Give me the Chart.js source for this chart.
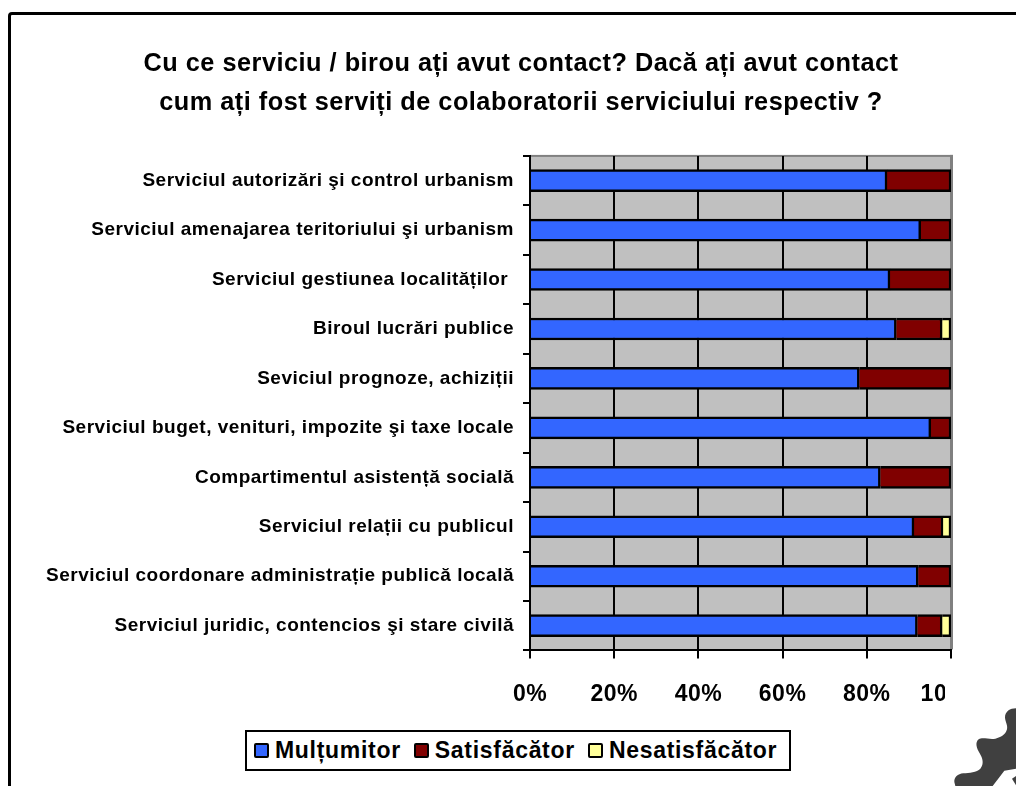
<!DOCTYPE html>
<html>
<head>
<meta charset="utf-8">
<script src="https://cdn.jsdelivr.net/npm/chart.js@4"></script>
<style>
    html, body { margin: 0; padding: 0; background: #fff; overflow: hidden; width: 1016px; height: 786px; }
    #frame { position: absolute; left: 8px; top: 12px; width: 1100px; height: 900px; border: 3px solid #000; border-radius: 4px; }
    #wrap { position: absolute; left: 0; top: 0; width: 1016px; height: 786px; }
    #legend { position: absolute; left: 245px; top: 730px; width: 546px; height: 41px; box-sizing: border-box; border: 2px solid #000; padding-left: 7px;
        display: flex; align-items: center; background: #fff;
        font: bold 23px "Liberation Sans", Arial, sans-serif; letter-spacing: 0.7px; color: #000; white-space: nowrap; }
    #legend span.item { display: flex; align-items: center; margin-right: 13px; }
    #legend i { display: block; width: 15px; height: 15px; box-sizing: border-box; border: 2px solid #000; border-radius: 2px; margin-right: 6px; }
    #gear { position: absolute; left: 936px; top: 690px; }
</style>
</head>
<body>
<div id="frame"></div>
<div id="wrap"><canvas id="chart" width="1016" height="786"></canvas></div>
<div id="legend"></div>
<svg id="gear" width="80" height="96" viewBox="0 0 240 288">
    <path fill="#404040" d="M240 55 C222 55 207 65 207 82 C207 95 216 105 213 118 C208 135 195 142 178 146 C160 150 140 140 128 148 C116 158 122 175 131 190 C140 205 145 222 133 236 C122 248 100 248 82 250 C65 252 54 262 55 276 L58 288 L170 288 L205 242 L240 236 Z"/>
    <path fill="#404040" d="M240 258 L228 266 L240 286 Z"/>
</svg>
<script>
const categories = [
    'Serviciul autorizări şi control urbanism',
    'Serviciul amenajarea teritoriului şi urbanism',
    'Serviciul gestiunea localităților ',
    'Biroul lucrări publice',
    'Seviciul prognoze, achiziții',
    'Serviciul buget, venituri, impozite şi taxe locale',
    'Compartimentul asistență socială',
    'Serviciul relații cu publicul',
    'Serviciul coordonare administrație publică locală',
    'Serviciul juridic, contencios şi stare civilă'
];
const multumitor = [84.8, 92.8, 85.5, 87, 78.2, 95.2, 83.2, 91.2, 92.2, 92];
const satisfacator = [15.2, 7.2, 14.5, 10.9, 21.8, 4.8, 16.8, 6.9, 7.8, 5.9];
const nesatisfacator = [0, 0, 0, 2.1, 0, 0, 0, 1.9, 0, 2.1];
const titleLines = [
    'Cu ce serviciu / birou ați avut contact? Dacă ați avut contact',
    'cum ați fost serviți de colaboratorii serviciului respectiv ?'
];

const blue = '#3366FF';
const darkRed = '#800000';
const paleYellow = '#FFFF99';
const fontFamily = '"Liberation Sans", Arial, sans-serif';

// Gray plot background, darker top/right edges, wide text and the cut off last tick label
const plotBackground = {
    id: 'plotBackground',
    afterLayout(chart) {
        // title is centred on the whole frame, not on the space left of the padding
        chart.titleBlock.left += 45.5;
        chart.titleBlock.right += 45.5;
    },
    beforeDraw(chart) {
        const { ctx, chartArea: a } = chart;
        ctx.letterSpacing = '0.5px';
        ctx.save();
        ctx.fillStyle = '#C0C0C0';
        ctx.fillRect(a.left, a.top, a.right - a.left, a.bottom - a.top);
        ctx.fillStyle = '#808080';
        ctx.fillRect(a.left, a.top - 1, a.right - a.left + 2, 2);
        ctx.fillRect(a.right - 1, a.top - 1, 3, a.bottom - a.top);
        ctx.restore();
    },
    afterDraw(chart) {
        const { ctx, chartArea: a } = chart;
        ctx.save();
        ctx.fillStyle = '#fff';
        ctx.fillRect(945, a.bottom + 12, 71, 50);
        ctx.restore();
    }
};

function barDataset(label, data, color) {
    return {
        label: label,
        data: data,
        backgroundColor: color,
        borderColor: '#000',
        borderWidth: 2.5,
        barThickness: 22
    };
}

const chart = new Chart(document.getElementById('chart').getContext('2d'), {
    type: 'bar',
    data: {
        labels: categories,
        datasets: [
            barDataset('Mulțumitor', multumitor, blue),
            barDataset('Satisfăcător', satisfacator, darkRed),
            barDataset('Nesatisfăcător', nesatisfacator, paleYellow)
        ]
    },
    options: {
        indexAxis: 'y',
        responsive: false,
        animation: false,
        layout: { padding: { top: 0, right: 65, bottom: 56, left: 0 } },
        plugins: {
            legend: { display: false },
            tooltip: { enabled: false },
            title: {
                display: true,
                text: titleLines,
                color: '#000',
                font: { family: fontFamily, size: 25.3, weight: 'bold', lineHeight: 1.52 },
                padding: { top: 45, bottom: 34 }
            }
        },
        scales: {
            x: {
                stacked: true,
                min: 0,
                max: 100,
                ticks: {
                    stepSize: 20,
                    color: '#000',
                    padding: 22,
                    maxRotation: 0,
                    font: { family: fontFamily, size: 23, weight: 'bold' },
                    callback: v => v + '%'
                },
                grid: {
                    color: ctx => ctx.tick && ctx.tick.value === 100 ? 'transparent' : '#000',
                    tickColor: '#000',
                    lineWidth: 2,
                    tickLength: 8
                },
                border: { color: '#000', width: 2 }
            },
            y: {
                stacked: true,
                afterFit(scale) { scale.width = 530; },
                ticks: {
                    color: '#000',
                    padding: 9,
                    autoSkip: false,
                    font: { family: fontFamily, size: 19, weight: 'bold' }
                },
                grid: {
                    drawOnChartArea: false,
                    tickColor: '#000',
                    lineWidth: 2,
                    tickLength: 7
                },
                border: { color: '#000', width: 2 }
            }
        }
    },
    plugins: [plotBackground]
});

// Legend box, built from the datasets
const legendEl = document.getElementById('legend');
chart.data.datasets.forEach(ds => {
    const item = document.createElement('span');
    item.className = 'item';
    const swatch = document.createElement('i');
    swatch.style.background = ds.backgroundColor;
    item.appendChild(swatch);
    item.appendChild(document.createTextNode(ds.label));
    legendEl.appendChild(item);
});
</script>
</body>
</html>
